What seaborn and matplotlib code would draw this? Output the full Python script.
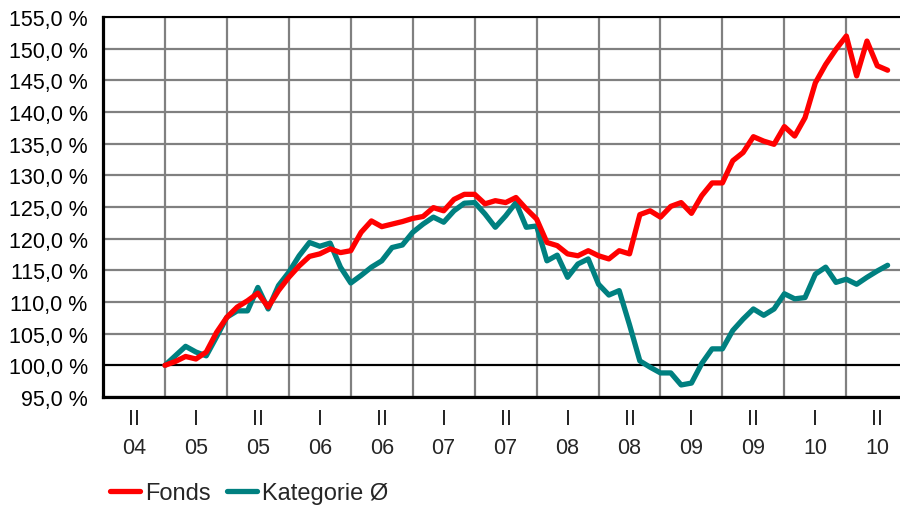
import numpy as np
import pandas as pd
import matplotlib
matplotlib.use("Agg")
import matplotlib.pyplot as plt
import matplotlib.transforms as mtransforms
from matplotlib.lines import Line2D
from matplotlib.ticker import FuncFormatter
import seaborn as sns

# months since 1 July 2004 (month-end observations)
months = list(range(6, 77))

fonds = [100.0, 100.6, 101.4, 101.0, 102.1, 105.2, 107.6, 109.2, 110.2, 111.4,
         109.2, 111.8, 113.9, 115.7, 117.2, 117.6, 118.4, 117.8, 118.1, 121.0,
         122.8, 121.9, 122.3, 122.7, 123.2, 123.5, 124.9, 124.4, 126.2, 127.0,
         127.0, 125.5, 126.0, 125.7, 126.5, 124.7, 123.1, 119.4, 118.9, 117.6,
         117.3, 118.1, 117.3, 116.8, 118.1, 117.6, 123.8, 124.4, 123.4, 125.1,
         125.7, 124.0, 126.8, 128.8, 128.8, 132.3, 133.6, 136.1, 135.4, 134.9,
         137.7, 136.2, 139.1, 144.6, 147.5, 149.9, 152.0, 145.7, 151.2, 147.3,
         146.6]

kategorie = [100.0, 101.5, 103.0, 102.1, 101.5, 104.5, 107.6, 108.6, 108.6, 112.3,
             108.9, 112.6, 114.7, 117.3, 119.4, 118.8, 119.3, 115.5, 113.0, 114.2,
             115.5, 116.5, 118.6, 119.0, 121.0, 122.3, 123.4, 122.6, 124.4, 125.6,
             125.7, 123.9, 121.8, 123.6, 125.7, 121.8, 122.0, 116.5, 117.4, 113.9,
             116.0, 116.8, 112.8, 111.1, 111.8, 106.4, 100.7, 99.7, 98.8, 98.8,
             96.9, 97.2, 100.3, 102.6, 102.6, 105.5, 107.3, 108.9, 107.9, 108.9,
             111.3, 110.5, 110.7, 114.4, 115.5, 113.1, 113.6, 112.8, 113.9, 114.9,
             115.8]

y_ticks = [95, 100, 105, 110, 115, 120, 125, 130, 135, 140, 145, 150, 155]
half_labels = ["II", "I", "II", "I", "II", "I", "II", "I", "II", "I", "II", "I", "II"]
year_labels = ["04", "05", "05", "06", "06", "07", "07", "08", "08", "09", "09", "10", "10"]
series_names = ["Fonds", "Kategorie Ø"]
colors = {"Fonds": "#ff0000", "Kategorie Ø": "#008080"}

sns.set_style("white")
plt.rcParams["font.family"] = ["Liberation Sans", "DejaVu Sans"]

n = len(months)
df = pd.DataFrame({
    "m": months + months,
    "v": kategorie + fonds,
    "s": ["Kategorie Ø"] * n + ["Fonds"] * n,
})

fig = plt.figure(figsize=(9, 5.06), dpi=100)
ax = fig.add_axes([103 / 900, 1 - 398 / 506, 797 / 900, 380 / 506])

sns.lineplot(data=df, x="m", y="v", hue="s", hue_order=["Kategorie Ø", "Fonds"],
             palette=colors, linewidth=3.8, ax=ax, legend=False, zorder=3)
for ln in ax.lines:
    ln.set_solid_joinstyle("round")
    ln.set_solid_capstyle("round")

ax.set_xlim(0, 77.2)
ax.set_ylim(95, 155)
ax.set_xlabel("")
ax.set_ylabel("")

ax.set_yticks(y_ticks)
ax.yaxis.set_major_formatter(FuncFormatter(lambda v, p: f"{v:.1f}".replace(".", ",") + " %"))
ax.set_xticks(list(range(0, 78, 6)))
ax.set_xticks(list(range(0, 78)), minor=True)
ax.set_xticklabels([])

ax.set_axisbelow(True)
ax.grid(True, which="major", color="#808080", linewidth=1.6)
ax.axhline(100, color="black", linewidth=1.5, zorder=2)

ax.tick_params(axis="y", which="major", length=8, width=1.3, color="#808080",
               labelsize=15.5, pad=3, labelcolor="black")
ax.tick_params(axis="x", which="major", length=8, width=1.3, color="#808080")
ax.tick_params(axis="x", which="minor", length=4, width=1.1, color="#808080")

for side in ["left", "bottom"]:
    ax.spines[side].set_color("black")
    ax.spines[side].set_linewidth(2.3)
ax.spines["top"].set_color("black")
ax.spines["top"].set_linewidth(1.5)
ax.spines["right"].set_visible(False)

trans = mtransforms.blended_transform_factory(ax.transData, ax.transAxes)
for i, (h, yr) in enumerate(zip(half_labels, year_labels)):
    xc = 3 + 6 * i
    ax.text(xc, (398 - 420) / 380, h, transform=trans, ha="center", va="center", fontsize=15.5)
    ax.text(xc, (398 - 449) / 380, yr, transform=trans, ha="center", va="center", fontsize=15.5)

handles = [Line2D([], [], color=colors[s], linewidth=3.8, solid_capstyle="round") for s in series_names]
fig.legend(handles, series_names, loc="center left", bbox_to_anchor=(110 / 900, 1 - 494 / 506),
           ncol=2, frameon=False, fontsize=17, handlelength=1.27, handletextpad=0.22,
           columnspacing=0.68, borderpad=0, borderaxespad=0)

fig.savefig("out.png", dpi=100)
